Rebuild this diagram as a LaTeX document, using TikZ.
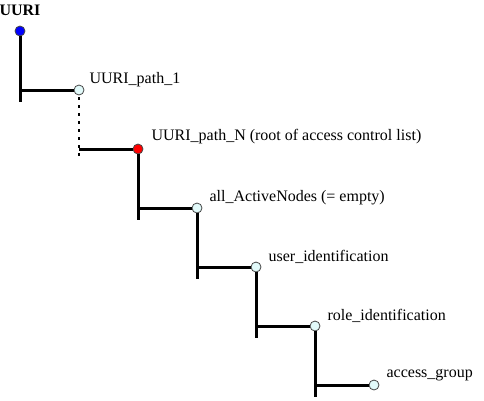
\documentclass[tikz,border=0pt]{standalone}
\usepackage{fontspec}
\setmainfont{Liberation Serif}
\usetikzlibrary{positioning}
\definecolor{leafcyan}{RGB}{226,250,250}
\definecolor{rimgray}{RGB}{70,70,70}

\begin{document}
\begin{tikzpicture}[x=1pt,y=1pt,font=\fontsize{16}{18}\selectfont]

                \def\d{59pt}
                \def\s{12pt}

                % dots of the tree and their texts
                \tikzset{dot/.style={circle, draw=rimgray, line width=0.8pt,
                    minimum size=10pt, inner sep=0pt},
                    leaf/.style={dot, fill=leafcyan},
                    lbl/.style={inner sep=0pt}}

                \useasboundingbox (0,0) rectangle (484,-400);

                \node (root) [dot, fill=blue] at (20,-31) {};
                \node (p1) [leaf, on grid, below right=\d and \d of root] {};
                \node (pN) [dot, fill=red, on grid, below right=\d and \d of p1] {};
                \node (act) [leaf, on grid, below right=\d and \d of pN] {};
                \node (user) [leaf, on grid, below right=\d and \d of act] {};
                \node (role) [leaf, on grid, below right=\d and \d of user] {};
                \node (grp) [leaf, on grid, below right=\d and \d of role] {};

                \node (troot) [lbl, above=10pt of root] {\textbf{UURI}};
                \node (t1) [lbl, right=5pt of p1, yshift=10pt] {UURI\_path\_1};
                \node (tN) [lbl, right=8pt of pN, yshift=12pt]
                {UURI\_path\_N (root of access control list)};
                \node (tact) [lbl, right=7pt of act, yshift=10pt]
                {all\_ActiveNodes (= empty)};
                \node (tuser) [lbl, right=7pt of user, yshift=10pt]
                {user\_identification};
                \node (trole) [lbl, right=7pt of role, yshift=10pt]
                {role\_identification};
                \node (tgrp) [lbl, right=7pt of grp, yshift=10pt]
                {access\_group};

                \begin{scope}[line width=3pt]
                    \draw (root) -- ([yshift=-\s]root |- p1);
                    \draw (root |- p1) -- (p1);
                    \draw[line width=2.4pt, dash pattern=on 2.4pt off 5.6pt]
                    ([yshift=-2pt]p1.south) -- ([yshift=-8pt]p1 |- pN);
                    \draw (p1 |- pN) -- (pN);
                    \draw (pN) -- ([yshift=-\s]pN |- act);
                    \draw (pN |- act) -- (act);
                    \draw (act) -- ([yshift=-\s]act |- user);
                    \draw (act |- user) -- (user);
                    \draw (user) -- ([yshift=-\s]user |- role);
                    \draw (user |- role) -- (role);
                    \draw (role) -- ([yshift=-\s]role |- grp);
                    \draw (role |- grp) -- (grp);
                \end{scope}

\end{tikzpicture}
\end{document}
